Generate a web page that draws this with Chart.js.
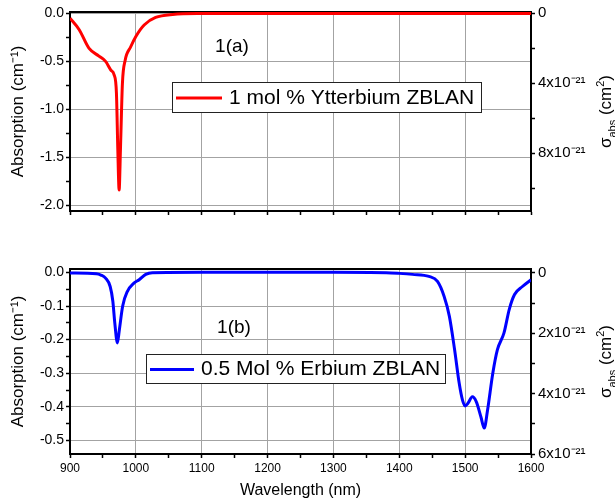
<!DOCTYPE html>
<html><head><meta charset="utf-8">
<script src="https://cdn.jsdelivr.net/npm/chart.js@4.4.1/dist/chart.umd.min.js"></script>
<style>
html,body{margin:0;padding:0;background:#fff;}
#wrap{position:relative;width:615px;height:504px;background:#fff;}
#c1{position:absolute;left:0;top:0;}
#c2{position:absolute;left:0;top:240px;}
</style></head><body>
<div id="wrap">
<canvas id="c1" width="615" height="240" style="width:615px;height:240px"></canvas>
<canvas id="c2" width="615" height="264" style="width:615px;height:264px"></canvas>
</div>
<script>
// ---------- DATA ----------
const ybLabel = '1 mol % Ytterbium ZBLAN';
const ybWavelength = [900, 914, 929, 944, 954, 962, 967, 970.5, 972.6, 974.6, 976.6, 979.6, 983.7, 992, 1000, 1012.6, 1030, 1056, 1096, 1200, 1300, 1400, 1500, 1600];
const ybAbsorption = [-0.05, -0.17, -0.365, -0.445, -0.50, -0.59, -0.64, -0.83, -1.42, -1.84, -1.42, -0.73, -0.49, -0.35, -0.24, -0.12, -0.042, -0.01, -0.001, 0, 0, 0, 0, 0];

const erLabel = '0.5 Mol % Erbium ZBLAN';
const erWavelength = [900, 940, 947, 954, 961, 965, 968, 972, 975, 980, 987, 997, 1005, 1015, 1025, 1100, 1200, 1300, 1380, 1400, 1420, 1445, 1458, 1468, 1476, 1484, 1491, 1496, 1500, 1504, 1511, 1517, 1524, 1529, 1534, 1542, 1549, 1559, 1567, 1575, 1587, 1600];
const erAbsorption = [-0.002, -0.004, -0.008, -0.017, -0.042, -0.085, -0.15, -0.21, -0.17, -0.10, -0.057, -0.032, -0.022, -0.006, -0.001, 0, 0, 0, -0.001, -0.003, -0.006, -0.012, -0.027, -0.071, -0.13, -0.23, -0.33, -0.38, -0.397, -0.39, -0.37, -0.385, -0.43, -0.463, -0.41, -0.30, -0.23, -0.18, -0.11, -0.066, -0.042, -0.022];

const xTicks = [900, 950, 1000, 1050, 1100, 1150, 1200, 1250, 1300, 1350, 1400, 1450, 1500, 1550, 1600];
const xMajorStep = 100;
const topLeftTicks = [-2.0, -1.75, -1.5, -1.25, -1.0, -0.75, -0.5, -0.25, 0.0];
const topLeftMajorStep = 0.5;
const topRightTicks = [0, 2e-21, 4e-21, 6e-21, 8e-21, 10e-21];
const topRightMajorStep = 4e-21;
const botLeftTicks = [-0.5, -0.45, -0.4, -0.35, -0.3, -0.25, -0.2, -0.15, -0.1, -0.05, 0.0];
const botLeftMajorStep = 0.1;
const botRightTicks = [0, 1e-21, 2e-21, 3e-21, 4e-21, 5e-21, 6e-21];
const botRightMajorStep = 2e-21;

const panelLabels = ['1(a)', '1(b)'];
const xTitle = 'Wavelength (nm)';
const leftTitle = 'Absorption (cm\u207B\u00B9)';

// ---------- HELPERS ----------
const FONT = "'Liberation Sans', Arial, sans-serif";
const GRID = '#a3a3a3';
function isMajor(v, step) { const r = v / step; return Math.abs(r - Math.round(r)) < 1e-6; }
function fixTicks(list) { return (s) => { s.ticks = list.map(v => ({ value: v })); }; }
function pts(xs, ys) { return xs.map((x, i) => ({ x: x, y: ys[i] })); }
function sciLabel(v) {
  if (Math.abs(v) < 1e-30) return '0';
  const m = Math.round(v / 1e-21);
  return m + 'x10\u207B\u00B2\u00B9';
}

const decor = {
  id: 'decor',
  afterDraw(chart, args, o) {
    const ctx = chart.ctx, ca = chart.chartArea;
    const xs = chart.scales.x, ys = chart.scales.y;
    ctx.save();
    // panel label
    ctx.fillStyle = '#000';
    ctx.font = '19px ' + FONT;
    ctx.textAlign = 'center'; ctx.textBaseline = 'middle';
    ctx.fillText(o.label, xs.getPixelForValue(o.labelX), ys.getPixelForValue(o.labelY));
    // legend box
    const L = o.legend;
    ctx.fillStyle = '#fff';
    ctx.fillRect(L.left, L.top, L.width, L.height);
    ctx.strokeStyle = '#222'; ctx.lineWidth = 1;
    ctx.strokeRect(L.left + 0.5, L.top + 0.5, L.width, L.height);
    const ds = chart.data.datasets[0];
    ctx.strokeStyle = ds.borderColor; ctx.lineWidth = 3;
    ctx.beginPath();
    ctx.moveTo(L.left + 4, L.top + L.height / 2 + 1);
    ctx.lineTo(L.left + 4 + L.sample, L.top + L.height / 2 + 1);
    ctx.stroke();
    ctx.fillStyle = '#000';
    ctx.font = '21px ' + FONT;
    ctx.textAlign = 'left'; ctx.textBaseline = 'middle';
    ctx.fillText(ds.label, L.left + L.sample + 11, L.top + L.height / 2 + 1);
    // right axis title: sigma_abs (cm^2), rotated
    const cy = (ca.top + ca.bottom) / 2;
    ctx.translate(o.rightTitleX, cy);
    ctx.rotate(-Math.PI / 2);
    const big = '17px ' + FONT, small = '11px ' + FONT;
    const parts = [
      { t: '\u03C3', f: big, dy: 0 },
      { t: 'abs', f: small, dy: 5 },
      { t: ' (cm', f: big, dy: 0 },
      { t: '2', f: small, dy: -7 },
      { t: ')', f: big, dy: 0 }
    ];
    let total = 0;
    parts.forEach(p => { ctx.font = p.f; p.w = ctx.measureText(p.t).width; total += p.w; });
    let x = -total / 2;
    ctx.textBaseline = 'alphabetic'; ctx.textAlign = 'left';
    parts.forEach(p => { ctx.font = p.f; ctx.fillText(p.t, x, 6 + p.dy); x += p.w; });
    ctx.restore();
  }
};

function xAxis(showLabels, height) {
  return {
    type: 'linear', position: 'bottom', min: 900, max: 1600,
    afterBuildTicks: fixTicks(xTicks),
    afterFit: (s) => { s.height = height; },
    grid: {
      color: (c) => isMajor(c.tick.value, xMajorStep) ? GRID : 'rgba(0,0,0,0)',
      tickColor: '#000', tickLength: 4, lineWidth: 1, tickWidth: 1.5
    },
    border: { color: '#000', width: 2 },
    ticks: {
      display: showLabels, padding: 3, color: '#000', maxRotation: 0, autoSkip: false,
      font: { family: FONT, size: 12 },
      callback: (v) => isMajor(v, xMajorStep) ? String(v) : ''
    },
    title: {
      display: showLabels, text: xTitle, color: '#000',
      font: { family: FONT, size: 16 }, padding: { top: 0, bottom: 4 }
    }
  };
}
function topAxis() {
  return {
    type: 'linear', position: 'top', min: 900, max: 1600,
    afterFit: (s) => { s.height = 0; },
    grid: { drawOnChartArea: false, drawTicks: false },
    border: { color: '#000', width: 2 },
    ticks: { display: false }
  };
}
function leftAxis(min, max, ticks, step) {
  return {
    type: 'linear', position: 'left', min: min, max: max,
    afterBuildTicks: fixTicks(ticks),
    afterFit: (s) => { s.width = 70; },
    grid: {
      color: (c) => isMajor(c.tick.value, step) ? GRID : 'rgba(0,0,0,0)',
      tickColor: '#000', tickLength: 4, tickWidth: 1.5
    },
    border: { color: '#000', width: 2 },
    ticks: {
      color: '#000', padding: 2, autoSkip: false,
      font: { family: FONT, size: 14 },
      callback: (v) => isMajor(v, step) ? v.toFixed(1) : ''
    },
    title: {
      display: true, text: leftTitle, color: '#000',
      font: { family: FONT, size: 17 }, padding: { top: 8, bottom: 0 }
    }
  };
}
function rightAxis(min, max, ticks, step) {
  return {
    type: 'linear', position: 'right', min: min, max: max, reverse: true,
    afterBuildTicks: fixTicks(ticks),
    afterFit: (s) => { s.width = 84; },
    grid: { drawOnChartArea: false, tickColor: '#000', tickLength: 4, tickWidth: 1.5 },
    border: { color: '#000', width: 2 },
    ticks: {
      color: '#000', padding: 3, autoSkip: false,
      font: { family: FONT, size: 15 },
      callback: (v) => isMajor(v, step) ? sciLabel(v) : ''
    }
  };
}
function baseOpts() {
  return {
    responsive: false, animation: false,
    plugins: { legend: { display: false }, tooltip: { enabled: false } },
    elements: { point: { radius: 0 } }
  };
}

// ---------- TOP PANEL ----------
const o1 = baseOpts();
o1.layout = { padding: { top: 12, left: 0, right: 0, bottom: 0 } };
o1.scales = {
  x: xAxis(false, 29),
  xTop: topAxis(),
  y: leftAxis(-2.06, 0.015, topLeftTicks, topLeftMajorStep),
  y2: rightAxis(-0.074e-21, 11.3e-21, topRightTicks, topRightMajorStep)
};
o1.plugins.decor = {
  label: panelLabels[0], labelX: 1146, labelY: -0.35,
  legend: { left: 172, top: 82, width: 309, height: 30, sample: 46 },
  rightTitleX: 605
};
new Chart(document.getElementById('c1'), {
  type: 'line',
  data: { datasets: [{ label: ybLabel, data: pts(ybWavelength, ybAbsorption), borderColor: '#ff0000', borderWidth: 3, cubicInterpolationMode: 'monotone', fill: false, yAxisID: 'y' }] },
  options: o1,
  plugins: [decor]
});

// ---------- BOTTOM PANEL ----------
const o2 = baseOpts();
o2.layout = { padding: { top: 29, left: 0, right: 0, bottom: 0 } };
o2.scales = {
  x: xAxis(true, 50),
  xTop: topAxis(),
  y: leftAxis(-0.54, 0.01, botLeftTicks, botLeftMajorStep),
  y2: rightAxis(-0.13e-21, 6e-21, botRightTicks, botRightMajorStep)
};
o2.plugins.decor = {
  label: panelLabels[1], labelX: 1149, labelY: -0.165,
  legend: { left: 146, top: 114, width: 299, height: 29, sample: 44 },
  rightTitleX: 605
};
new Chart(document.getElementById('c2'), {
  type: 'line',
  data: { datasets: [{ label: erLabel, data: pts(erWavelength, erAbsorption), borderColor: '#0000ff', borderWidth: 3, cubicInterpolationMode: 'monotone', fill: false, yAxisID: 'y' }] },
  options: o2,
  plugins: [decor]
});
</script>
</body></html>
